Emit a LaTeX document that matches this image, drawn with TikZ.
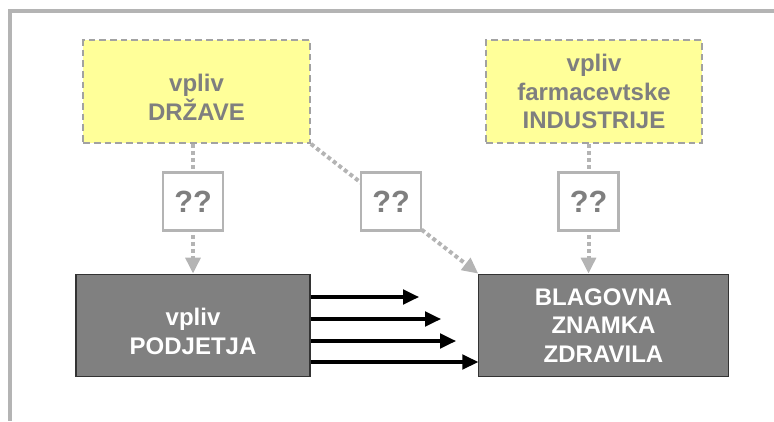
\documentclass[tikz,border=0pt]{standalone}
\usepackage{fontspec}
\setmainfont{Liberation Sans}
\usetikzlibrary{arrows.meta,backgrounds}

\definecolor{okvir}{HTML}{B4B4B4}
\definecolor{rumena}{HTML}{FFFF99}
\definecolor{sivtekst}{HTML}{7F7F7F}
\definecolor{temna}{HTML}{808080}

\begin{document}
\begin{tikzpicture}[x=0.75pt, y=-0.75pt,
  besedilo/.style={font=\fontsize{18}{21.5}\selectfont\bfseries, align=center, inner sep=0pt},
  vpliv/.style={besedilo, draw=okvir!90!black, line width=1.6pt, dash pattern=on 5pt off 3pt, fill=rumena, text=sivtekst},
  vprasaj/.style={draw=okvir, line width=2.2pt, fill=white, text=sivtekst, inner sep=0pt,
    font=\fontsize{23}{26}\selectfont\bfseries, minimum width=45pt, minimum height=44pt},
  glavni/.style={besedilo, draw=black!80, line width=0.8pt, fill=temna, text=white, minimum height=77pt},
  pikcasta/.style={draw=okvir, line width=3pt, dash pattern=on 3pt off 2.25pt,
    -{Triangle[length=12pt,width=11pt,fill=okvir]}},
  puscica/.style={line width=2.3pt, -{Triangle[length=12pt,width=11pt]}}]

\useasboundingbox (0,0) rectangle (774,421);

% Okvir
\draw[okvir, line width=2.4pt] (774,11) -- (10,11) -- (10,421);

% Vplivi zgoraj
\node[vpliv, minimum width=170pt, minimum height=77pt] (drzava) at (196.5,91.5) {\mbox{}\\vpliv\\DRŽAVE};
\node[vpliv, minimum width=162pt, minimum height=77pt] (industrija) at (594,91.5) {vpliv\\farmacevtske\\INDUSTRIJE};

% Glavna pravokotnika
\node[glavni, minimum width=175.5pt] (podjetje) at (193,325.5) {\mbox{}\\vpliv\\PODJETJA};
\node[glavni, minimum width=187pt] (znamka) at (603.5,325.5) {BLAGOVNA\\ZNAMKA\\ZDRAVILA};

% Vprasaji
\node[vprasaj] (v1) at (193,201.5) {??};
\node[vprasaj] (v2) at (391,201.5) {??};
\node[vprasaj] (v3) at (588.5,201.5) {??};

% Pikcaste povezave (za vprasaji)
\begin{scope}[on background layer]
  \draw[pikcasta] (v1 |- drzava.south) -- (v1 |- podjetje.north);
  \draw[pikcasta] (drzava.south east) -- (znamka.north west);
  \draw[pikcasta] (v3 |- industrija.south) -- (v3 |- znamka.north);
\end{scope}

% Puscice podjetja
\coordinate (k1) at (419,297);
\coordinate (k2) at (441,319);
\coordinate (k3) at (456,341);
\coordinate (k4) at (0,362);
\draw[puscica] (podjetje.east |- k1) -- (k1);
\draw[puscica] (podjetje.east |- k2) -- (k2);
\draw[puscica] (podjetje.east |- k3) -- (k3);
\draw[puscica] (podjetje.east |- k4) -- (znamka.west |- k4);

\end{tikzpicture}
\end{document}
